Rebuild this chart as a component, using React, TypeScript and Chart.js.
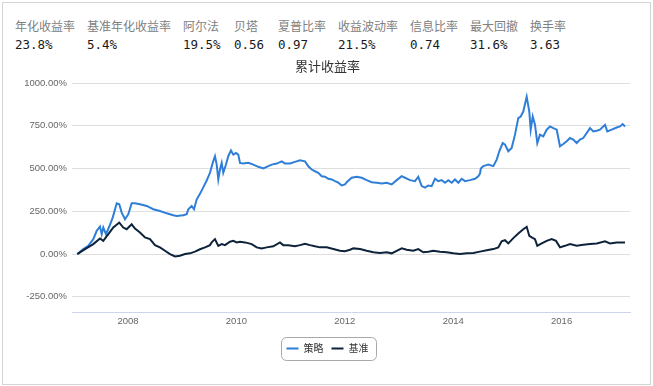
import React, { useEffect, useRef } from "react";
import { Chart, registerables } from "chart.js";

Chart.register(...registerables);

// ---- header statistics ----
const statLabels = ["年化收益率", "基准年化收益率", "阿尔法", "贝塔", "夏普比率", "收益波动率", "信息比率", "最大回撤", "换手率"];
const statValues = ["23.8%", "5.4%", "19.5%", "0.56", "0.97", "21.5%", "0.74", "31.6%", "3.63"];

// ---- chart text ----
const chartTitle = "累计收益率";
const seriesNames = ["策略", "基准"];

// ---- axis ticks ----
const xTickValues = [2008, 2010, 2012, 2014, 2016];
const xTickLabels = ["2008", "2010", "2012", "2014", "2016"];
const yTickValues = [-250, 0, 250, 500, 750, 1000];

// ---- series (x = decimal year, y = cumulative return in %) ----
const strategyDates = [
  2007.065, 2007.175, 2007.268, 2007.36, 2007.423, 2007.483, 2007.515, 2007.544, 2007.594, 2007.655,
  2007.718, 2007.792, 2007.839, 2007.884, 2007.945, 2008.006, 2008.068, 2008.129, 2008.221, 2008.345,
  2008.467, 2008.59, 2008.714, 2008.836, 2008.899, 2009.02, 2009.083, 2009.113, 2009.175, 2009.218,
  2009.268, 2009.328, 2009.389, 2009.452, 2009.513, 2009.563, 2009.605, 2009.637, 2009.666, 2009.697,
  2009.729, 2009.758, 2009.808, 2009.85, 2009.9, 2009.943, 2009.993, 2010.035, 2010.066, 2010.127,
  2010.22, 2010.312, 2010.404, 2010.496, 2010.559, 2010.651, 2010.744, 2010.836, 2010.897, 2010.989,
  2011.081, 2011.173, 2011.266, 2011.327, 2011.389, 2011.45, 2011.511, 2011.574, 2011.635, 2011.695,
  2011.758, 2011.819, 2011.88, 2011.943, 2012.004, 2012.035, 2012.127, 2012.22, 2012.312, 2012.404,
  2012.496, 2012.589, 2012.681, 2012.773, 2012.865, 2012.958, 2013.05, 2013.111, 2013.203, 2013.295,
  2013.356, 2013.419, 2013.48, 2013.541, 2013.603, 2013.664, 2013.725, 2013.788, 2013.849, 2013.91,
  2013.972, 2014.033, 2014.094, 2014.157, 2014.218, 2014.31, 2014.402, 2014.463, 2014.494, 2014.51,
  2014.555, 2014.586, 2014.648, 2014.74, 2014.803, 2014.85, 2014.913, 2014.956, 2015.017, 2015.079,
  2015.14, 2015.201, 2015.245, 2015.293, 2015.356, 2015.404, 2015.43, 2015.467, 2015.509, 2015.552,
  2015.601, 2015.662, 2015.725, 2015.786, 2015.847, 2015.91, 2015.97, 2016.031, 2016.094, 2016.155,
  2016.216, 2016.278, 2016.339, 2016.4, 2016.463, 2016.524, 2016.585, 2016.648, 2016.708, 2016.801,
  2016.843, 2016.924, 2017.017, 2017.077, 2017.127, 2017.17,
];
const strategyValues = [
  0, 29, 48, 87, 136, 161, 116, 155, 116, 161,
  213, 297, 291, 242, 203, 233, 297, 297, 291, 281,
  262, 252, 238, 227, 223, 227, 233, 262, 281, 262,
  320, 352, 390, 430, 475, 533, 572, 523, 436, 494,
  533, 475, 523, 572, 606, 581, 591, 581, 533, 529,
  533, 523, 510, 500, 510, 523, 529, 542, 529, 529,
  539, 548, 542, 513, 494, 484, 475, 455, 452, 440,
  436, 426, 417, 401, 407, 420, 446, 452, 446, 432,
  420, 417, 413, 417, 407, 432, 455, 446, 432, 426,
  452, 397, 388, 401, 397, 440, 426, 432, 417, 432,
  417, 436, 417, 440, 426, 432, 440, 455, 470, 500,
  514, 517, 523, 514, 552, 601, 649, 640, 601, 620,
  698, 795, 804, 833, 920, 833, 727, 804, 756, 649,
  698, 688, 727, 746, 736, 727, 630, 643, 659, 678,
  669, 649, 669, 678, 708, 736, 717, 721, 727, 756,
  717, 727, 740, 746, 760, 746,
];

const benchmarkDates = [
  2007.065, 2007.207, 2007.36, 2007.483, 2007.544, 2007.637, 2007.729, 2007.839, 2007.913, 2007.976,
  2008.068, 2008.129, 2008.221, 2008.314, 2008.406, 2008.498, 2008.59, 2008.683, 2008.775, 2008.867,
  2008.959, 2009.052, 2009.144, 2009.236, 2009.328, 2009.421, 2009.513, 2009.544, 2009.605, 2009.666,
  2009.729, 2009.79, 2009.882, 2009.943, 2010.006, 2010.066, 2010.159, 2010.282, 2010.375, 2010.467,
  2010.559, 2010.681, 2010.804, 2010.865, 2010.957, 2011.081, 2011.173, 2011.266, 2011.358, 2011.45,
  2011.542, 2011.666, 2011.788, 2011.911, 2012.004, 2012.096, 2012.158, 2012.281, 2012.404, 2012.527,
  2012.65, 2012.773, 2012.865, 2012.958, 2013.05, 2013.142, 2013.264, 2013.356, 2013.449, 2013.541,
  2013.633, 2013.756, 2013.88, 2014.002, 2014.125, 2014.249, 2014.371, 2014.494, 2014.618, 2014.74,
  2014.832, 2014.894, 2014.956, 2015.017, 2015.109, 2015.201, 2015.293, 2015.356, 2015.404, 2015.449,
  2015.509, 2015.552, 2015.633, 2015.725, 2015.817, 2015.897, 2015.97, 2016.063, 2016.155, 2016.278,
  2016.4, 2016.524, 2016.648, 2016.801, 2016.893, 2017.017, 2017.17,
];
const benchmarkValues = [
  0, 29, 58, 91, 77, 116, 155, 184, 155, 145,
  174, 149, 126, 97, 87, 52, 39, 19, 0, -14,
  -10, 0, 4, 14, 28, 39, 52, 68, 87, 48,
  58, 52, 72, 77, 68, 72, 68, 58, 39, 33,
  39, 45, 68, 52, 52, 45, 52, 60, 52, 45,
  39, 39, 29, 19, 16, 25, 33, 29, 19, 10,
  6, 10, 4, 19, 33, 25, 19, 29, 10, 14,
  19, 14, 10, 4, 0, 4, 6, 14, 22, 29,
  39, 74, 81, 62, 93, 120, 145, 159, 106, 97,
  87, 48, 62, 77, 87, 77, 39, 48, 58, 48,
  54, 58, 62, 74, 62, 68, 68,
];

// ---- axis extents ----
const xMin = 2006.967;
const xMax = 2017.262;
const yMin = -343;
const yMax = 1000;

// layout of the header columns (page px)
const statColumnLeft = [15, 87, 183, 234, 278, 338, 410, 470, 530];

const strategyColor = "#2f7ed8";
const benchmarkColor = "#0d233a";

const legendBorder = {
  id: "legendBorder",
  afterDraw(chart: any) {
    const lg = chart.legend;
    if (!lg || !lg.legendHitBoxes || !lg.legendHitBoxes.length) return;
    const boxes = lg.legendHitBoxes;
    const left = Math.min(...boxes.map((b: any) => b.left)) - 6;
    const right = Math.max(...boxes.map((b: any) => b.left + b.width)) + 7;
    const cy = boxes[0].top + boxes[0].height / 2;
    const top = Math.round(cy - 11.5) + 0.5;
    const ctx = chart.ctx;
    ctx.save();
    ctx.strokeStyle = "#a8a8a8";
    ctx.lineWidth = 1;
    ctx.beginPath();
    const x0 = Math.round(left) + 0.5;
    const w = Math.round(right - left);
    if ((ctx as any).roundRect) (ctx as any).roundRect(x0, top, w, 23, 5);
    else ctx.rect(x0, top, w, 23);
    ctx.stroke();
    ctx.restore();
  },
};

export default function App() {
  const canvasRef = useRef<HTMLCanvasElement | null>(null);

  useEffect(() => {
    if (!canvasRef.current) return;
    const axisFont = { size: 9.5, family: "'Liberation Sans', Arial, sans-serif" };
    const chart = new Chart(canvasRef.current, {
      type: "line",
      data: {
        datasets: [
          {
            label: seriesNames[0],
            data: strategyDates.map((d, i) => ({ x: d, y: strategyValues[i] })),
            borderColor: strategyColor,
            backgroundColor: strategyColor,
            borderWidth: 2,
            pointRadius: 0,
            tension: 0,
            order: 1,
          },
          {
            label: seriesNames[1],
            data: benchmarkDates.map((d, i) => ({ x: d, y: benchmarkValues[i] })),
            borderColor: benchmarkColor,
            backgroundColor: benchmarkColor,
            borderWidth: 2,
            pointRadius: 0,
            tension: 0,
            order: 0,
          },
        ],
      },
      options: {
        responsive: false,
        animation: false,
        events: [],
        layout: { padding: { left: 20, right: 20, top: 0, bottom: 16.5 } },
        scales: {
          x: {
            type: "linear",
            min: xMin,
            max: xMax,
            afterBuildTicks: (s: any) => {
              s.ticks = xTickValues.map((v) => ({ value: v }));
            },
            afterFit: (s: any) => {
              s.height += 4.8;
            },
            ticks: {
              autoSkip: false,
              maxRotation: 0,
              padding: 3.3,
              color: "#666",
              font: axisFont,
              callback: (_v: any, i: number) => xTickLabels[i],
            },
            grid: { display: false, drawTicks: false },
            border: { display: true, color: "#ccd6eb", width: 1 },
          },
          y: {
            type: "linear",
            min: yMin,
            max: yMax,
            afterBuildTicks: (s: any) => {
              s.ticks = yTickValues.map((v) => ({ value: v }));
            },
            afterFit: (s: any) => {
              s.width = 47;
            },
            ticks: {
              padding: 5,
              color: "#666",
              font: axisFont,
              callback: (v: any) => Number(v).toFixed(2) + "%",
            },
            grid: { color: "#dedede", drawTicks: false, lineWidth: 1 },
            border: { display: false },
          },
        },
        plugins: {
          title: {
            display: true,
            text: chartTitle,
            color: "#333",
            font: { size: 13, weight: "normal", family: "'Noto Sans CJK SC', sans-serif" },
            padding: { top: 8, bottom: 9.4 },
          },
          legend: {
            display: true,
            position: "bottom",
            labels: {
              boxWidth: 12,
              boxHeight: 2,
              padding: 8,
              color: "#333",
              font: { size: 10, family: "'Noto Sans CJK SC', sans-serif" },
              sort: (a: any, b: any) => a.datasetIndex - b.datasetIndex,
              generateLabels: (c: any) =>
                (Chart as any).defaults.plugins.legend.labels
                  .generateLabels(c)
                  .map((l: any) => ({ ...l, lineWidth: 0, fillStyle: l.strokeStyle })),
            },
          },
          tooltip: { enabled: false },
        },
      } as any,
      plugins: [legendBorder],
    });
    return () => chart.destroy();
  }, []);

  return (
    <div
      style={{
        position: "fixed",
        left: 0,
        top: 0,
        width: 653,
        height: 386,
        background: "#fff",
        overflow: "hidden",
      }}
    >
      <div
        style={{
          position: "absolute",
          left: 2,
          top: 2,
          width: 647,
          height: 381,
          border: "1px solid #d4d4d4",
        }}
      />
      {statLabels.map((t, i) => (
        <div
          key={"l" + i}
          style={{
            position: "absolute",
            left: statColumnLeft[i],
            top: 18.5,
            fontFamily: "'Noto Sans CJK SC', sans-serif",
            fontSize: 12,
            lineHeight: "14px",
            color: "#808080",
            whiteSpace: "nowrap",
          }}
        >
          {t}
        </div>
      ))}
      {statValues.map((t, i) => (
        <div
          key={"v" + i}
          style={{
            position: "absolute",
            left: statColumnLeft[i],
            top: 37.5,
            fontFamily: "'DejaVu Sans Mono', monospace",
            fontSize: 12.5,
            lineHeight: "14px",
            color: "#1a1a1a",
            whiteSpace: "nowrap",
          }}
        >
          {t}
        </div>
      ))}
      <canvas
        ref={canvasRef}
        width={645}
        height={330}
        style={{ position: "absolute", left: 5, top: 50, display: "block" }}
      />
    </div>
  );
}
